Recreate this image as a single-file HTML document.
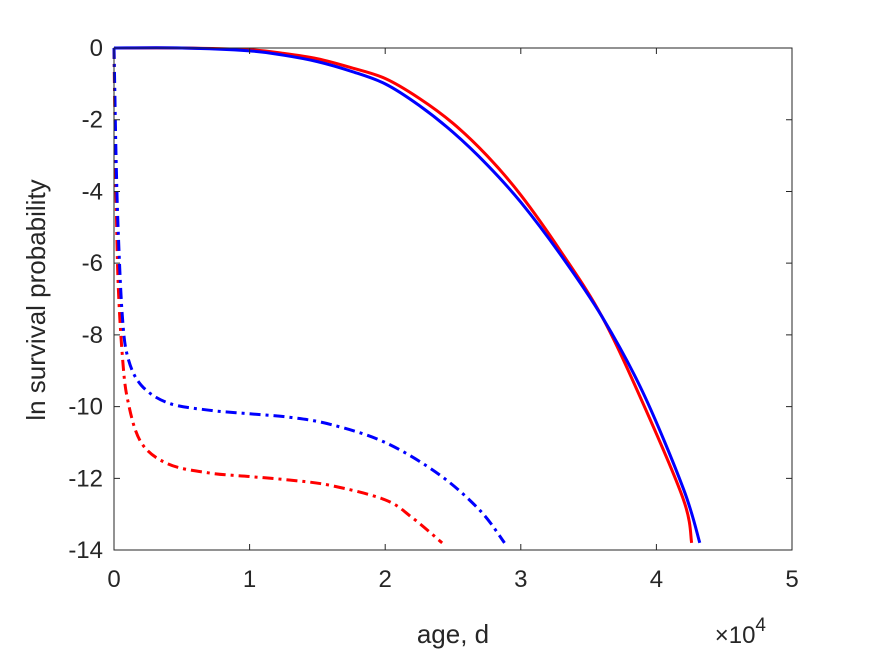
<!DOCTYPE html>
<html><head><meta charset="utf-8"><style>
body{margin:0;background:#fff}
svg text{font-family:"Liberation Sans",sans-serif;fill:#262626}
</style></head><body>
<svg width="875" height="656" xmlns="http://www.w3.org/2000/svg">
<rect width="875" height="656" fill="#fff"/>
<g id="plot"></g>
<rect x="114" y="48" width="678" height="502" fill="none" stroke="#262626" stroke-width="1"/>
<g id="ticks"></g>
<text x="453" y="643" font-size="26" text-anchor="middle">age, d</text>
<text x="766" y="643" font-size="24" text-anchor="end">×10<tspan dy="-12" font-size="19">4</tspan></text>
<text transform="translate(45,300) rotate(-90)" font-size="26" text-anchor="middle">ln survival probability</text>
</svg>
<script>
const xTicks=[0,1,2,3,4,5];
const yTicks=[0,-2,-4,-6,-8,-10,-12,-14];
const redSolidX=[0,0.5,1,1.25,1.5,1.75,2,2.25,2.5,2.75,3,3.3,3.6,3.9,4.2,4.26];
const redSolidY=[0,0,-0.05,-0.15,-0.3,-0.55,-0.85,-1.4,-2.1,-3.0,-4.1,-5.7,-7.5,-9.9,-12.6,-13.8];
const blueSolidX=[0,0.5,1,1.25,1.5,1.75,2,2.25,2.5,2.75,3,3.3,3.6,3.9,4.2,4.32];
const blueSolidY=[0,0,-0.08,-0.2,-0.38,-0.65,-1.0,-1.6,-2.35,-3.25,-4.3,-5.8,-7.5,-9.6,-12.3,-13.8];
const blueDashX=[0,0.005,0.015,0.03,0.06,0.1,0.2,0.4,0.7,1.0,1.3,1.6,2.0,2.4,2.7,2.88];
const blueDashY=[0,-1,-3,-5,-7.4,-8.6,-9.4,-9.9,-10.1,-10.2,-10.3,-10.5,-11.0,-11.9,-12.9,-13.8];
const redDashX=[0,0.005,0.015,0.03,0.06,0.1,0.2,0.4,0.7,1.0,1.3,1.6,2.0,2.2,2.42];
const redDashY=[0,-1.5,-4,-6.5,-8.5,-9.8,-11.0,-11.6,-11.85,-11.95,-12.05,-12.2,-12.6,-13.1,-13.8];
const NS='http://www.w3.org/2000/svg';
const sx=v=>114+v*135.6, sy=v=>48-v*35.86;
const plot=document.getElementById('plot'), tk=document.getElementById('ticks');
function smoothPath(xs,ys){
  const P=xs.map((x,i)=>[sx(x),sy(ys[i])]);
  let d=`M${P[0][0]},${P[0][1]}`;
  for(let i=0;i<P.length-1;i++){
    const p0=P[Math.max(i-1,0)],p1=P[i],p2=P[i+1],p3=P[Math.min(i+2,P.length-1)];
    const c1=[p1[0]+(p2[0]-p0[0])/6,p1[1]+(p2[1]-p0[1])/6];
    const c2=[p2[0]-(p3[0]-p1[0])/6,p2[1]-(p3[1]-p1[1])/6];
    d+=` C${c1[0]},${c1[1]} ${c2[0]},${c2[1]} ${p2[0]},${p2[1]}`;
  }
  return d;
}
function line(xs,ys,color,dash,name){
  const p=document.createElementNS(NS,'path');
  p.setAttribute('d',smoothPath(xs,ys));
  p.setAttribute('fill','none');p.setAttribute('stroke',color);p.setAttribute('stroke-width','3');
  p.setAttribute('stroke-linejoin','round');
  if(dash)p.setAttribute('stroke-dasharray',dash);
  
  
  plot.appendChild(p);
}
line(redDashX,redDashY,'#ff0000','11 5 3 5','red-dashdot-line');
line(blueDashX,blueDashY,'#0000ff','11 5 3 5','blue-dashdot-line');
line(redSolidX,redSolidY,'#ff0000',null,'red-solid-line');
line(blueSolidX,blueSolidY,'#0000ff',null,'blue-solid-line');
xTicks.forEach(v=>{
  const l=document.createElementNS(NS,'path');
  l.setAttribute('d',`M${sx(v)} 550v-6M${sx(v)} 48v6`);l.setAttribute('stroke','#262626');
  
  
  tk.appendChild(l);
  const t=document.createElementNS(NS,'text');
  t.setAttribute('x',sx(v));t.setAttribute('y',587);t.setAttribute('font-size','24');t.setAttribute('text-anchor','middle');
  t.textContent=v;
  
  
  tk.appendChild(t);
});
yTicks.forEach(v=>{
  const l=document.createElementNS(NS,'path');
  l.setAttribute('d',`M114 ${sy(v)}h6M792 ${sy(v)}h-6`);l.setAttribute('stroke','#262626');
  
  
  tk.appendChild(l);
  const t=document.createElementNS(NS,'text');
  t.setAttribute('x',103);t.setAttribute('y',sy(v)+8);t.setAttribute('font-size','24');t.setAttribute('text-anchor','end');
  t.textContent=v;
  
  
  tk.appendChild(t);
});
</script>
</body></html>
